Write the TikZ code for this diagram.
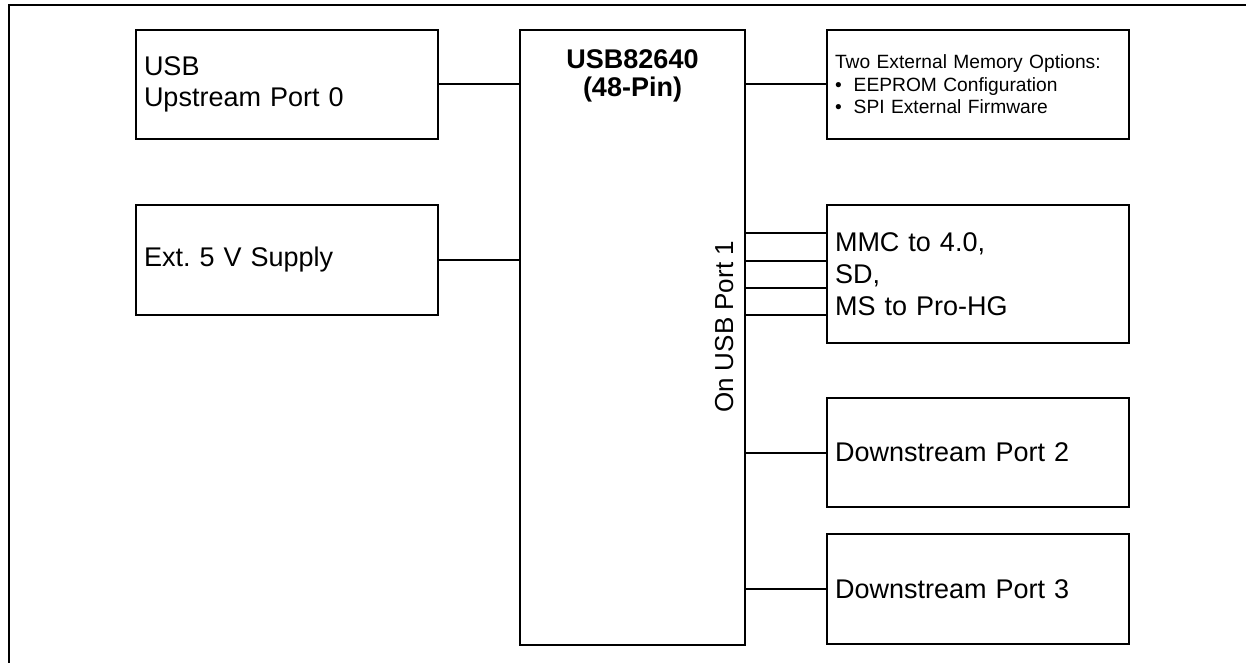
\documentclass[tikz,border=0pt]{standalone}
\usepackage{fontspec}
\setmainfont{Liberation Sans}
\usepackage{tikz}

\begin{document}
\begin{tikzpicture}[
    x=0.5pt, y=-0.5pt, % one unit per reference pixel
    line width=1pt,
    block/.style={rectangle,draw,line width=1.2pt,inner xsep=4pt,inner ysep=0pt,text width=143pt,align=left,font=\fontsize{13.5}{15.5}\selectfont},
    chip/.style={rectangle,draw,line width=1.2pt,minimum width=112.5pt,minimum height=307.5pt},
    memo/.style={block,font=\fontsize{9.6}{11.25}\selectfont}
]
    \useasboundingbox (0,0) rectangle (1246,663);
    % outer frame, only its top and left edges are in view
    \draw[line width=1.2pt] (9,663) -- (9,5) -- (1246,5);

    % Define nodes
    \node[chip] (chip) at (632.5,337.5) {};
    \node[font=\bfseries\fontsize{13.5}{14}\selectfont,align=center,anchor=north,inner sep=0pt] (title) at ([yshift=-10pt]chip.north) {USB82640\\(48-Pin)};
    \node[rotate=90,anchor=base,inner sep=0pt,font=\fontsize{13}{15}\selectfont] (port1) at (733,327) {On USB Port 1};

    \node[block,minimum height=54.5pt] (usb) at (287,84.5) {USB\\Upstream Port 0};
    \node[block,minimum height=55pt] (supply) at (287,260) {Ext.\ 5 V Supply};
    \node[memo,minimum height=54.5pt] (mem) at (978,84.5) {Two External Memory Options:\\\textbullet\hspace{6pt}EEPROM Configuration\\\textbullet\hspace{6pt}SPI External Firmware};
    \node[block,minimum height=69pt,font=\fontsize{13.5}{16}\selectfont] (card) at (978,274) {MMC to 4.0,\\SD,\\MS to Pro-HG};
    \node[block,minimum height=54.5pt] (ds2) at (978,452.5) {Downstream Port 2};
    \node[block,minimum height=55pt] (ds3) at (978,589) {Downstream Port 3};

    % Connectors to the hub
    \draw (usb.east) -- (usb.east -| chip.west);
    \draw (supply.east) -- (supply.east -| chip.west);
    \draw (mem.west) -- (mem.west -| chip.east);
    \foreach \dy [count=\i] in {20.25,6.75,-6.75,-20.25} {
        \coordinate (pin\i) at ([yshift=\dy pt]card.west);
        \draw (pin\i) -- (pin\i -| chip.east);
    }
    \draw (ds2.west) -- (ds2.west -| chip.east);
    \draw (ds3.west) -- (ds3.west -| chip.east);
\end{tikzpicture}
\end{document}
